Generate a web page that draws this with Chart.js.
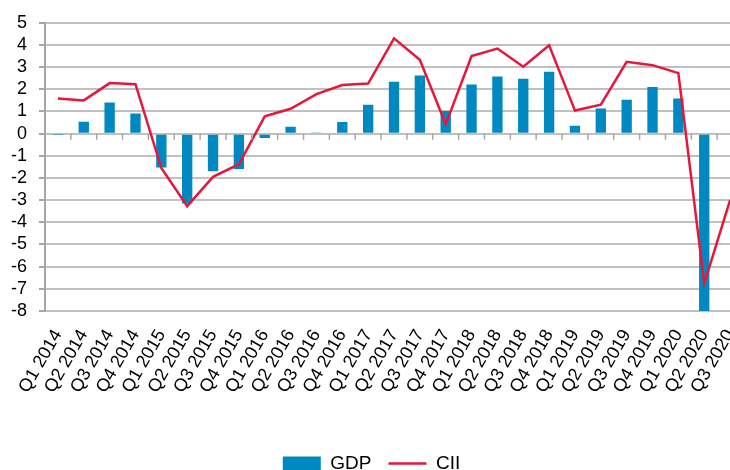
<!DOCTYPE html>
<html>
<head>
<meta charset="utf-8">
<script src="https://cdn.jsdelivr.net/npm/chart.js@4/dist/chart.umd.min.js"></script>
<style>
    html, body { margin: 0; padding: 0; background: #fff; overflow: hidden; }
    #wrap { width: 743px; height: 483px; }
</style>
</head>
<body>
<div id="wrap"><canvas id="gdpChart"></canvas></div>
<script>
const quarters = [
    "Q1 2014", "Q2 2014", "Q3 2014", "Q4 2014",
    "Q1 2015", "Q2 2015", "Q3 2015", "Q4 2015",
    "Q1 2016", "Q2 2016", "Q3 2016", "Q4 2016",
    "Q1 2017", "Q2 2017", "Q3 2017", "Q4 2017",
    "Q1 2018", "Q2 2018", "Q3 2018", "Q4 2018",
    "Q1 2019", "Q2 2019", "Q3 2019", "Q4 2019",
    "Q1 2020", "Q2 2020", "Q3 2020"
];
const gdp = [
    -0.03, 0.54, 1.41, 0.91,
    -1.53, -3.15, -1.7, -1.6,
    -0.2, 0.31, 0.05, 0.52,
    1.3, 2.34, 2.62, 1.02,
    2.22, 2.58, 2.48, 2.79,
    0.36, 1.13, 1.53, 2.1,
    1.59, -8.0, null
];
const cii = [
    1.59, 1.5, 2.28, 2.23,
    -1.55, -3.27, -1.95, -1.38,
    0.78, 1.12, 1.78, 2.19,
    2.26, 4.3, 3.33, 0.42,
    3.5, 3.84, 3.02, 3.99,
    1.04, 1.31, 3.24, 3.09,
    2.73, -6.76, -3.0
];
const yMin = -8;
const yMax = 5;

const gridGray = "#c0c0c0";
const axisGray = "#a6a6a6";

// small tick marks hanging below the zero line, between categories
const zeroTicks = {
    id: "zeroTicks",
    afterDatasetsDraw(chart) {
        let x = chart.scales.x;
        let y0 = chart.scales.y.getPixelForValue(0);
        let step = x.getPixelForValue(1) - x.getPixelForValue(0);
        let ctx = chart.ctx;
        ctx.save();
        ctx.strokeStyle = axisGray;
        ctx.lineWidth = 1.5;
        ctx.beginPath();
        for (let i = 0; i < quarters.length; i++) {
            let px = x.getPixelForValue(i) + step / 2;
            ctx.moveTo(px, y0);
            ctx.lineTo(px, y0 + 6);
        }
        ctx.stroke();
        ctx.restore();
    }
};

Chart.defaults.font.family = "'Liberation Sans', Arial, sans-serif";
Chart.defaults.color = "#000";

new Chart(document.getElementById("gdpChart"), {
    data: {
        labels: quarters,
        datasets: [
            {
                type: "line",
                label: "CII",
                data: cii,
                borderColor: "#e6163c",
                backgroundColor: "#e6163c",
                borderWidth: 2.5,
                pointRadius: 0,
                tension: 0,
                order: 0
            },
            {
                type: "bar",
                label: "GDP",
                data: gdp,
                backgroundColor: "#0089c0",
                barPercentage: 0.4,
                categoryPercentage: 1,
                order: 1
            }
        ]
    },
    options: {
        responsive: true,
        maintainAspectRatio: false,
        animation: false,
        layout: {
            padding: { top: 22, right: 0, left: 0, bottom: 0 }
        },
        scales: {
            x: {
                offset: true,
                grid: { display: false, drawTicks: false },
                border: { display: false },
                ticks: {
                    minRotation: 60,
                    maxRotation: 60,
                    autoSkip: false,
                    padding: 15,
                    font: { size: 18 }
                },
                afterFit(scale) {
                    scale.height = 126;
                    scale.paddingLeft = 0;
                    scale.paddingRight = 0;
                }
            },
            y: {
                min: yMin,
                max: yMax,
                grid: {
                    color: gridGray,
                    lineWidth: 2,
                    tickLength: 6,
                    tickColor: axisGray
                },
                border: { display: true, color: axisGray, width: 2 },
                ticks: {
                    stepSize: 1,
                    autoSkip: false,
                    padding: 12,
                    font: { size: 18 }
                },
                afterFit(scale) { scale.width = 45; }
            }
        },
        plugins: {
            legend: {
                position: "bottom",
                reverse: true,
                labels: {
                    usePointStyle: true,
                    pointStyleWidth: 38,
                    boxHeight: 14,
                    padding: 17,
                    font: { size: 19 },
                    generateLabels(chart) {
                        let items = Chart.defaults.plugins.legend.labels.generateLabels(chart);
                        items.forEach(it => {
                            it.pointStyle = it.text === "GDP" ? "rect" : "line";
                        });
                        return items;
                    }
                }
            },
            tooltip: { enabled: false }
        }
    },
    plugins: [zeroTicks]
});
</script>
</body>
</html>
